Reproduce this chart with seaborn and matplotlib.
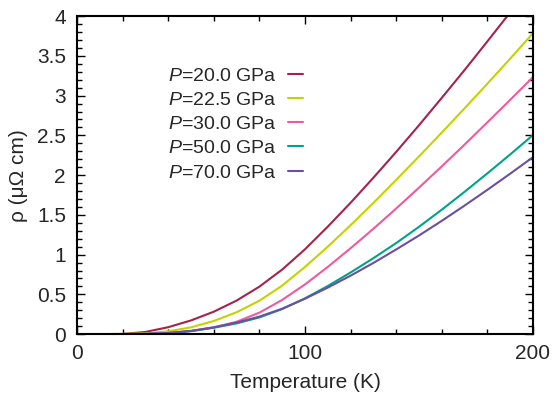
import numpy as np
import pandas as pd
import matplotlib
matplotlib.use("Agg")
import matplotlib.pyplot as plt
import seaborn as sns
from matplotlib.ticker import MultipleLocator

temperature = [0, 10, 20, 30, 40, 50, 60, 70, 80, 90, 100, 110, 120, 130, 140, 150, 160, 170, 180, 190, 200]
rho_20 = [0, 0, 0.002, 0.027, 0.087, 0.172, 0.282, 0.422, 0.597, 0.812, 1.067, 1.352, 1.652, 1.967, 2.292, 2.627, 2.972, 3.322, 3.682, 4.047, 4.417]
rho_225 = [0, 0, 0.002, 0.010, 0.035, 0.085, 0.165, 0.275, 0.42, 0.61, 0.845, 1.10, 1.37, 1.65, 1.94, 2.235, 2.535, 2.84, 3.15, 3.465, 3.785]
rho_30 = [0, 0, 0, 0.003, 0.015, 0.04, 0.085, 0.155, 0.27, 0.43, 0.625, 0.845, 1.08, 1.325, 1.58, 1.842, 2.11, 2.384, 2.664, 2.947, 3.233]
rho_50 = [0, 0, 0, 0.002, 0.012, 0.037, 0.08, 0.135, 0.21, 0.315, 0.45, 0.605, 0.775, 0.955, 1.145, 1.35, 1.565, 1.79, 2.022, 2.26, 2.504]
rho_70 = [0, 0, 0, 0.003, 0.014, 0.04, 0.085, 0.145, 0.22, 0.32, 0.445, 0.585, 0.735, 0.895, 1.065, 1.24, 1.425, 1.617, 1.815, 2.018, 2.226]

labels = ["$\\it{P}$=20.0 GPa", "$\\it{P}$=22.5 GPa", "$\\it{P}$=30.0 GPa", "$\\it{P}$=50.0 GPa", "$\\it{P}$=70.0 GPa"]
colors = ["#a2234b", "#c2d400", "#ef5a9b", "#00a386", "#6c4fa0"]
series = [rho_20, rho_225, rho_30, rho_50, rho_70]
xticks = [0, 100, 200]
yticks = [0, 0.5, 1, 1.5, 2, 2.5, 3, 3.5, 4]
ytick_labels = ["0", "0.5", "1", "1.5", "2", "2.5", "3", "3.5", "4"]

rows = []
for lab, vals in zip(labels, series):
    for t, v in zip(temperature, vals):
        rows.append({"T": t, "rho": v, "P": lab})
df = pd.DataFrame(rows)

sns.set_style("ticks")
plt.rcParams['font.family'] = ['Liberation Sans', 'DejaVu Sans']
plt.rcParams['mathtext.fontset'] = 'custom'
plt.rcParams['mathtext.it'] = 'Liberation Sans:italic'
plt.rcParams['mathtext.rm'] = 'Liberation Sans'

fig = plt.figure(figsize=(5.54, 3.94), dpi=100)
ax = fig.add_axes([0.139, 0.152, 0.823, 0.807])

sns.lineplot(data=df, x="T", y="rho", hue="P", palette=colors, hue_order=labels,
             linewidth=1.5, ax=ax, estimator=None)

ax.set_xlim(0, 200)
ax.set_ylim(0, 4)
ax.set_xticks(xticks)
ax.xaxis.set_minor_locator(MultipleLocator(20))
ax.set_yticks(yticks)
ax.set_yticklabels(ytick_labels)
ax.yaxis.set_minor_locator(MultipleLocator(0.1))
ax.tick_params(which="both", direction="in", top=True, right=True, labelsize=15, color="black")
ax.tick_params(which="major", length=6, width=1)
ax.tick_params(which="minor", length=3.5, width=1)
ax.tick_params(axis="x", which="major", pad=7)
ax.tick_params(axis="y", which="major", pad=8)
for s in ax.spines.values():
    s.set_linewidth(1.5)
    s.set_color("black")

ax.set_xlabel("Temperature (K)", fontsize=15, labelpad=7)
ax.set_ylabel("ρ (μΩ cm)", fontsize=15, labelpad=6)

leg = ax.legend(loc="upper right", bbox_to_anchor=(0.496, 0.84), frameon=False, markerfirst=False,
                fontsize=14, handlelength=0.8, handletextpad=0.55, labelspacing=0.34,
                borderaxespad=0, borderpad=0)
for line in leg.get_lines():
    line.set_linewidth(1.5)

fig.savefig("out.png", dpi=100)
